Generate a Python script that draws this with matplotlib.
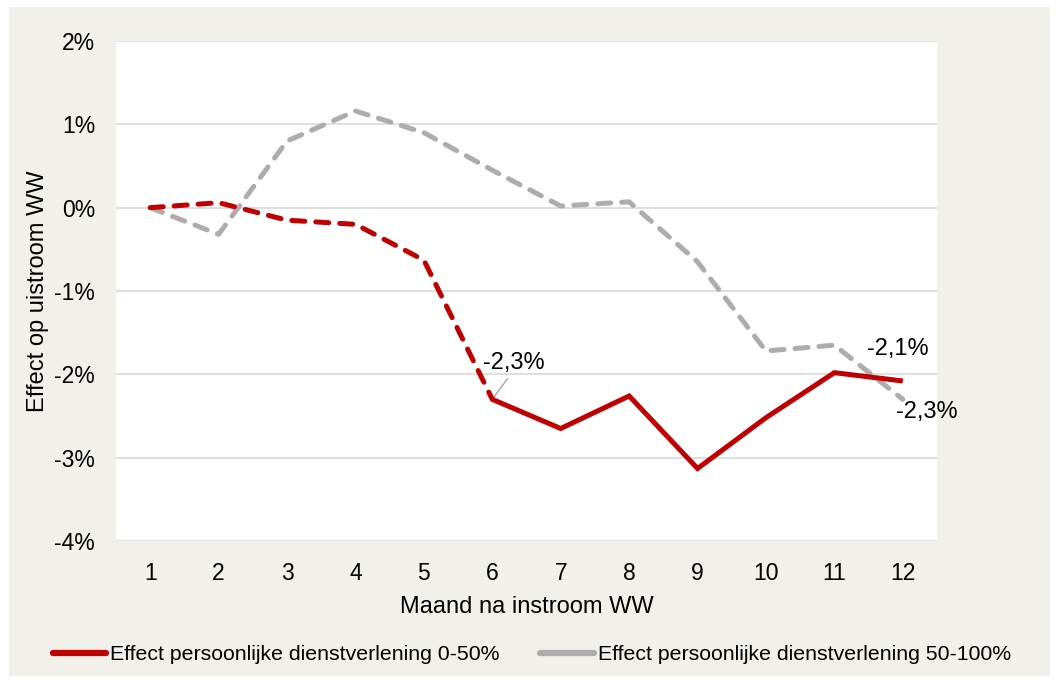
import matplotlib
matplotlib.use("Agg")
import matplotlib.pyplot as plt
from matplotlib.patches import Rectangle
from matplotlib.lines import Line2D

months = [1, 2, 3, 4, 5, 6, 7, 8, 9, 10, 11, 12]
effect_0_50 = [0.0, 0.06, -0.15, -0.20, -0.63, -2.30, -2.65, -2.26, -3.13, -2.52, -1.98, -2.08]
effect_50_100 = [0.0, -0.32, 0.80, 1.16, 0.90, 0.45, 0.02, 0.07, -0.65, -1.72, -1.65, -2.30]
series_names = ["Effect persoonlijke dienstverlening 0-50%",
                "Effect persoonlijke dienstverlening 50-100%"]
y_ticks = [2, 1, 0, -1, -2, -3, -4]
y_ticklabels = ["2%", "1%", "0%", "-1%", "-2%", "-3%", "-4%"]

RED = "#c00000"
GREY = "#aeacac"
BG = "#f1f0ea"
FS_TICK = 16.5
FS_LAB = 17
FS_ANN = 17
FS_LEG = 15.3

plt.rcParams["font.family"] = ["Liberation Sans", "DejaVu Sans"]

fig = plt.figure(figsize=(10.56, 6.81), dpi=100)
fig.patch.set_facecolor("white")
fig.patches.append(Rectangle((9 / 1056, 1 - 676 / 681), 1041 / 1056, 669 / 681,
                             transform=fig.transFigure, facecolor=BG, edgecolor="none",
                             zorder=-5))

W, H = 1056, 681
x0, x1, ytop, ybot = 116, 937, 41, 541
ax = fig.add_axes([x0 / W, 1 - ybot / H, (x1 - x0) / W, (ybot - ytop) / H])
ax.set_zorder(2)
ax.set_facecolor("white")
ax.set_xlim(0.5, 12.5)
ax.set_ylim(-4, 2)
for s in ax.spines.values():
    s.set_visible(False)
ax.set_yticks(y_ticks)
ax.set_yticklabels(y_ticklabels, fontsize=FS_TICK)
ax.set_xticks(months)
ax.set_xticklabels([str(m) for m in months], fontsize=FS_TICK)
ax.tick_params(length=0)
ax.tick_params(axis="x", pad=15)
ax.tick_params(axis="y", pad=15)
ax.grid(axis="y", color="#d9d9d9", linewidth=1.2)
ax.set_axisbelow(True)

lw = 3.6
dash = (0, (2.6, 2.2))
# grey series (dashed throughout)
ax.plot(months, effect_50_100, color=GREY, lw=lw, linestyle=dash,
        dash_capstyle="round", solid_joinstyle="round", zorder=3)
# red series: dashed until month 6, solid afterwards
ax.plot(months[:6], effect_0_50[:6], color=RED, lw=lw, linestyle=dash,
        dash_capstyle="round", zorder=4)
ax.plot(months[5:], effect_0_50[5:], color=RED, lw=lw, linestyle="-",
        solid_joinstyle="miter", solid_capstyle="butt", zorder=4)

def fmt(v):
    return f"{v:.1f}%".replace(".", ",")

ax.annotate(fmt(effect_0_50[5]), xy=(months[5], effect_0_50[5]),
            xytext=(months[5] - 0.13, effect_0_50[5] + 0.44), fontsize=FS_ANN,
            ha="left", va="center",
            arrowprops=dict(arrowstyle="-", color="#a6a6a6", lw=1,
                            shrinkA=2, shrinkB=0, relpos=(0.45, 0.0)))
ax.annotate(fmt(effect_0_50[11]), xy=(months[11], effect_0_50[11]),
            xytext=(months[11] - 0.52, effect_0_50[11] + 0.38), fontsize=FS_ANN,
            ha="left", va="center")
ax.annotate(fmt(effect_50_100[11]), xy=(months[11], effect_50_100[11]),
            xytext=(months[11] - 0.1, effect_50_100[11] - 0.15), fontsize=FS_ANN,
            ha="left", va="center")

ax.set_xlabel("Maand na instroom WW", fontsize=FS_LAB, labelpad=8)
ax.set_ylabel("Effect op uistroom WW", fontsize=FS_LAB, labelpad=4)

handles = [Line2D([], [], color=RED, lw=4.5, solid_capstyle="round"),
           Line2D([], [], color=GREY, lw=4.5, solid_capstyle="round")]
fig.legend(handles, series_names, loc="center", bbox_to_anchor=(532 / W, 1 - 655 / H),
           ncol=2, frameon=False, fontsize=FS_LEG, handlelength=2.5, handletextpad=0.2,
           columnspacing=1.9)

fig.savefig("out.png", dpi=100, facecolor=fig.get_facecolor())
